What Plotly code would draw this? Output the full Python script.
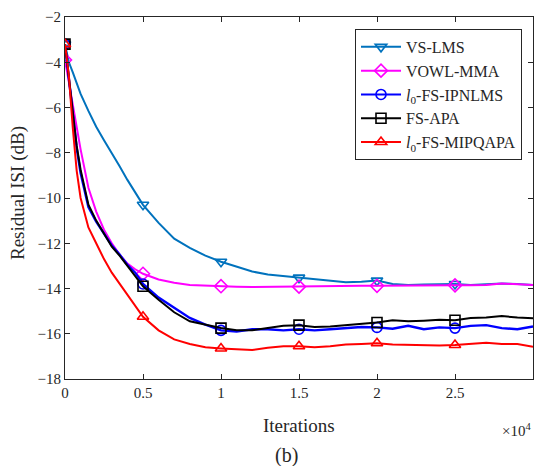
import plotly.graph_objects as go

# ---------------- data ----------------
iterations = [0, 250, 500, 750, 1000, 1500, 2000, 2500, 3000, 3500, 4000, 4500, 5000,
              6000, 7000, 8000, 9000, 10000, 11000, 12000, 13000, 14000, 15000,
              16000, 17000, 18000, 19000, 20000, 21000, 22000, 23000, 24000, 25000,
              26000, 27000, 28000, 29000, 30000]

vs_lms = [-3.2, -4.0, -4.45, -4.95, -5.4, -6.15, -6.85, -7.45, -8.0, -8.6, -9.2, -9.75, -10.3,
          -11.1, -11.8, -12.2, -12.55, -12.82, -13.03, -13.25, -13.38, -13.45, -13.52,
          -13.6, -13.65, -13.72, -13.7, -13.65, -13.8, -13.85, -13.82, -13.82, -13.8,
          -13.85, -13.82, -13.78, -13.8, -13.85]

vowl_mma = [-3.9, -4.9, -6.0, -7.0, -7.85, -9.55, -10.6, -11.4, -12.0, -12.5, -12.9, -13.15, -13.35,
            -13.6, -13.75, -13.85, -13.88, -13.9, -13.92, -13.93, -13.92, -13.9, -13.92,
            -13.9, -13.9, -13.88, -13.88, -13.88, -13.87, -13.86, -13.85, -13.85, -13.86,
            -13.86, -13.84, -13.78, -13.82, -13.85]

l0_fs_ipnlms = [-3.2, -4.8, -6.2, -7.8, -8.9, -10.4, -11.05, -11.6, -12.1, -12.5, -12.95, -13.3, -13.8,
                -14.4, -14.85, -15.3, -15.6, -15.85, -15.9, -15.8, -15.8, -15.85, -15.8,
                -15.85, -15.8, -15.75, -15.7, -15.72, -15.78, -15.65, -15.8, -15.72, -15.75,
                -15.65, -15.62, -15.75, -15.8, -15.68]

fs_apa = [-3.2, -4.7, -6.05, -7.7, -8.75, -10.3, -11.0, -11.6, -12.15, -12.55, -13.0, -13.4, -13.9,
          -14.5, -15.05, -15.45, -15.6, -15.75, -15.85, -15.85, -15.75, -15.65, -15.62,
          -15.7, -15.68, -15.62, -15.55, -15.5, -15.4, -15.45, -15.42, -15.38, -15.4,
          -15.3, -15.28, -15.22, -15.28, -15.32]

l0_fs_mipqapa = [-3.2, -4.6, -6.9, -8.8, -10.0, -11.3, -12.0, -12.7, -13.3, -13.8, -14.3, -14.8, -15.25,
                 -15.85, -16.25, -16.45, -16.6, -16.65, -16.7, -16.72, -16.62, -16.55, -16.55,
                 -16.6, -16.55, -16.48, -16.45, -16.42, -16.48, -16.5, -16.5, -16.52, -16.5,
                 -16.45, -16.4, -16.45, -16.45, -16.57]

marker_iterations = [0, 5000, 10000, 15000, 20000, 25000]

x_tickvals = [0, 5000, 10000, 15000, 20000, 25000, 30000]
x_ticktext = ["0", "0.5", "1", "1.5", "2", "2.5", "3"]
y_tickvals = [-18, -16, -14, -12, -10, -8, -6, -4, -2]
y_ticktext = ["\u221218", "\u221216", "\u221214", "\u221212", "\u221210",
              "\u22128", "\u22126", "\u22124", "\u22122"]

series = [
    ("VS-LMS", vs_lms, "#0072BD", "triangle-down-open"),
    ("VOWL-MMA", vowl_mma, "#FF00FF", "diamond-open"),
    ("<i>l</i><sub>0</sub>-FS-IPNLMS", l0_fs_ipnlms, "#0000FF", "circle-open"),
    ("FS-APA", fs_apa, "#000000", "square-open"),
    ("<i>l</i><sub>0</sub>-FS-MIPQAPA", l0_fs_mipqapa, "#FF0000", "triangle-up-open"),
]

FONT = "Liberation Serif"
TXT = "#262626"

fig = go.Figure()

for name, vals, color, sym in series:
    lw = 2.4 if color == "#0000FF" else 2
    fig.add_trace(go.Scatter(x=iterations, y=vals, mode="lines",
                             line=dict(color=color, width=lw),
                             showlegend=False, hoverinfo="skip"))
    mx = [x for x in iterations if x in marker_iterations]
    my = [vals[iterations.index(x)] for x in mx]
    fig.add_trace(go.Scatter(x=mx, y=my, mode="markers",
                             marker=dict(symbol=sym, size=10, color=color,
                                         line=dict(color=color, width=1.6)),
                             showlegend=False, hoverinfo="skip"))

for name, vals, color, sym in series:
    fig.add_trace(go.Scatter(x=[None], y=[None], mode="lines+markers", name=name,
                             line=dict(color=color, width=2),
                             marker=dict(symbol=sym, size=10, color=color,
                                         line=dict(color=color, width=1.6))))

tick_font = dict(family=FONT, size=15, color=TXT)
axis_common = dict(showline=True, linecolor=TXT, linewidth=1, mirror="ticks",
                   ticks="inside", ticklen=5, tickcolor=TXT, tickwidth=1,
                   showgrid=False, zeroline=False, tickfont=tick_font)

fig.update_layout(
    width=536, height=466,
    margin=dict(l=65, r=3, t=17, b=87),
    paper_bgcolor="white", plot_bgcolor="white",
    font=dict(family=FONT, size=15, color=TXT),
    xaxis=dict(range=[0, 30000], tickvals=x_tickvals, ticktext=x_ticktext, **axis_common),
    yaxis=dict(range=[-18, -2], tickvals=y_tickvals, ticktext=y_ticktext, **axis_common),
    legend=dict(x=0.9765, y=0.967, xanchor="right", yanchor="top",
                bgcolor="white", bordercolor=TXT, borderwidth=1,
                font=dict(family=FONT, size=16, color=TXT),
                itemwidth=40, tracegroupgap=0),
    annotations=[
        dict(text="Iterations", xref="paper", yref="paper", x=0.5, y=-0.1298,
             xanchor="center", yanchor="middle", showarrow=False,
             font=dict(family=FONT, size=19, color=TXT)),
        dict(text="Residual ISI (dB)", xref="paper", yref="paper", x=-0.1004, y=0.5138,
             xanchor="center", yanchor="middle", textangle=-90, showarrow=False,
             font=dict(family=FONT, size=19, color=TXT)),
        dict(text="\u00d710<sup>4</sup>", xref="paper", yref="paper", x=1.0, y=-0.141,
             xanchor="right", yanchor="middle", showarrow=False,
             font=dict(family=FONT, size=15, color=TXT)),
        dict(text="(b)", xref="paper", yref="paper", x=0.474, y=-0.21,
             xanchor="center", yanchor="middle", showarrow=False,
             font=dict(family=FONT, size=20, color=TXT)),
    ],
)

fig.write_html("out.html", config={"displayModeBar": False},
               post_script="document.body.style.margin='0';document.body.style.overflow='hidden';")
